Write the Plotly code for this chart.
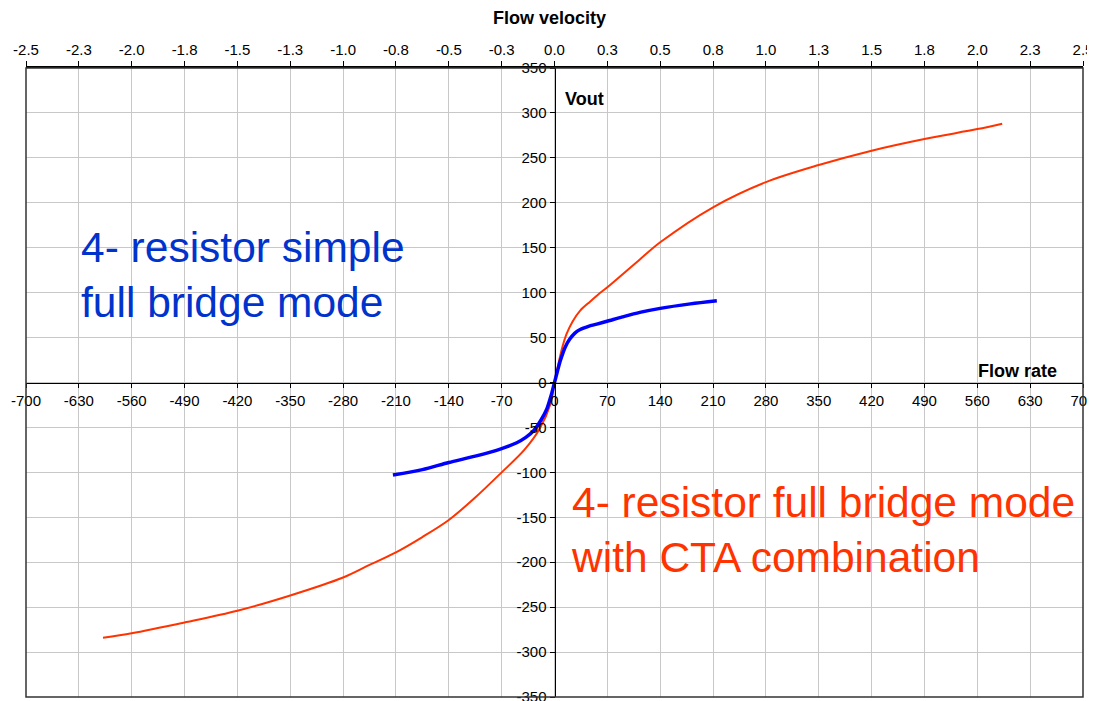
import plotly.graph_objects as go

# Flow rate (x) vs Vout (y)
cta_flow = [-598, -560, -490, -420, -350, -280, -245, -210, -175, -140, -105, -70, -40, -20, -5, 0,
            5, 10, 16, 24, 34, 47, 58, 70, 113, 140, 210, 280, 350, 420, 490, 560, 593]
cta_vout = [-284, -279, -267, -254, -237, -217, -203, -189, -172, -153, -128, -100, -75, -52, -23, 0,
            20, 38, 54, 68, 80, 90, 98, 106, 137, 156, 195, 223, 242, 258, 271, 282, 288]

simple_flow = [-214, -175, -140, -105, -70, -50, -38, -28, -18, -10, -4, 0,
               4, 8, 14, 20, 27, 34, 45, 56, 73, 90, 113, 140, 180, 215]
simple_vout = [-103, -97, -89, -82, -73.5, -67, -61, -54, -42, -29, -13, 0,
               13, 25, 39, 48, 55, 59, 62.5, 65, 69, 73, 78, 82.5, 87.5, 91]

flow_ticks = list(range(-700, 701, 70))
vout_ticks = list(range(-350, 351, 50))
vel_tickvals = [-2.5, -2.25, -2.0, -1.75, -1.5, -1.25, -1.0, -0.75, -0.5, -0.25, 0.0,
                0.25, 0.5, 0.75, 1.0, 1.25, 1.5, 1.75, 2.0, 2.25, 2.5]
vel_ticktext = ["-2.5", "-2.3", "-2.0", "-1.8", "-1.5", "-1.3", "-1.0", "-0.8", "-0.5", "-0.3", "0.0",
                "0.3", "0.5", "0.8", "1.0", "1.3", "1.5", "1.8", "2.0", "2.3", "2.5"]

FONT = "Liberation Sans, Arial, sans-serif"
RED = "#FF3300"
BLUE = "#0000FF"

fig = go.Figure()
fig.add_trace(go.Scatter(x=cta_flow, y=cta_vout, mode="lines",
                         line=dict(color=RED, width=2, shape="spline", smoothing=0.9),
                         showlegend=False))
fig.add_trace(go.Scatter(x=simple_flow, y=simple_vout, mode="lines",
                         line=dict(color=BLUE, width=3.5, shape="spline", smoothing=0.8),
                         showlegend=False))
# carrier trace for the top (velocity) axis
fig.add_trace(go.Scatter(x=[-2.5, 2.5], y=[None, None], xaxis="x2", mode="lines",
                         showlegend=False, hoverinfo="skip"))

fig.update_layout(
    width=1087, height=693,
    margin=dict(l=18, r=12, t=60, b=4),
    paper_bgcolor="white", plot_bgcolor="white",
    font=dict(family=FONT, size=15, color="black"),
    xaxis=dict(range=[-700, 700], tickvals=flow_ticks, ticktext=[str(v) for v in flow_ticks],
               anchor="free", position=0.5, side="bottom", automargin=False,
               ticklabeloverflow="allow",
               showline=True, linecolor="black", linewidth=1,
               ticks="outside", ticklen=4, tickcolor="black",
               showgrid=True, gridcolor="#C8C8C8", gridwidth=1, zeroline=False,
               tickfont=dict(family=FONT, size=15, color="black")),
    yaxis=dict(range=[-350, 350], tickvals=vout_ticks, ticktext=[str(v) for v in vout_ticks],
               anchor="free", position=0.5, side="left", automargin=False,
               ticklabeloverflow="allow",
               showline=True, linecolor="black", linewidth=1,
               ticks="outside", ticklen=5, tickcolor="black",
               showgrid=True, gridcolor="#C8C8C8", gridwidth=1, zeroline=False,
               tickfont=dict(family=FONT, size=15, color="black")),
    xaxis2=dict(range=[-2.5, 2.5], tickvals=vel_tickvals, ticktext=vel_ticktext,
                overlaying="x", side="top", anchor="y", automargin=False,
                ticklabeloverflow="allow",
                showline=True, linecolor="black", linewidth=1.5,
                ticks="outside", ticklen=5, tickcolor="black",
                showgrid=False, zeroline=False,
                tickfont=dict(family=FONT, size=15, color="black")),
    shapes=[dict(type="rect", xref="paper", yref="paper", x0=0, x1=1, y0=0, y1=1,
                 line=dict(color="#333333", width=1.5), fillcolor="rgba(0,0,0,0)", layer="above")],
    annotations=[
        dict(text="<b>Flow velocity</b>", xref="paper", yref="paper", x=0.4955, y=1.079,
             showarrow=False, xanchor="center", yanchor="middle",
             font=dict(family=FONT, size=18, color="black")),
        dict(text="<b>Vout</b>", xref="x", yref="y", x=11, y=316,
             showarrow=False, xanchor="left", yanchor="middle",
             font=dict(family=FONT, size=18, color="black")),
        dict(text="<b>Flow rate</b>", xref="x", yref="y", x=668, y=13,
             showarrow=False, xanchor="right", yanchor="middle",
             font=dict(family=FONT, size=18, color="black")),
        dict(text="4- resistor simple<br>full bridge mode", xref="x", yref="y", x=-630, y=120,
             showarrow=False, xanchor="left", yanchor="middle", align="left",
             font=dict(family=FONT, size=42.5, color="#0033CC")),
        dict(text="4- resistor full bridge mode<br>with CTA combination", xref="x", yref="y", x=19, y=-164,
             showarrow=False, xanchor="left", yanchor="middle", align="left",
             font=dict(family=FONT, size=42.5, color=RED)),
    ],
)

fig.write_html("out.html")
